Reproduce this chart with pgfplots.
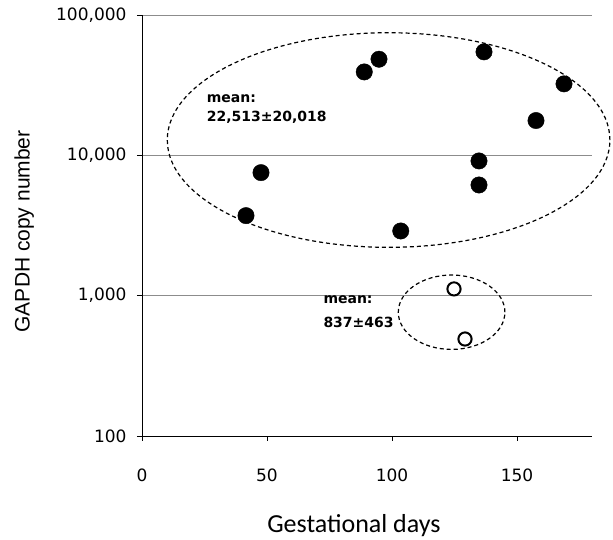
\documentclass[border=0pt]{standalone}
\usepackage{pgfplots}
\pgfplotsset{compat=1.18}
\usepackage{fontspec}
\setmainfont{Carlito}
\newfontfamily\tickfont{DejaVu Sans}
\newfontfamily\annfont{DejaVu Sans}
\newfontfamily\labfont{Liberation Sans}
\pgfplotstableread{
x y
41.6 3720
47.6 7530
88.9 39300
94.8 48400
103.5 2890
134.8 9120
134.8 6150
136.8 54600
157.6 17700
168.8 32300
}\filled
\pgfplotstableread{
x y
124.8 1117
129.2 491
}\open
\begin{document}
\begin{tikzpicture}
\useasboundingbox (-142pt,-103pt) rectangle (471pt,436pt);
\begin{axis}[
 scale only axis, width=450pt, height=421pt,
 xmin=0, xmax=180, ymode=log, ymin=100, ymax=100000,
 axis x line*=bottom, axis y line*=left,
 axis line style={black, line width=0.9pt, -},
 xtick={0,50,100,150}, xticklabels={0,50,100,150},
 ytick={100,1000,10000,100000}, yticklabels={100,{1,000},{10,000},{100,000}},
 yminorticks=false,
 tick align=outside, major tick length=5pt, tick style={black, line width=0.8pt},
 ymajorgrids, grid style={black!45, line width=0.7pt},
 /pgf/number format/assume math mode=true,
 ticklabel style={font=\tickfont\fontsize{17}{20}\selectfont},
 xticklabel style={yshift=-24pt},
 yticklabel style={xshift=-7pt},
 clip=false,
 xlabel={Gestational days},
 xlabel style={font=\fontsize{26}{30}\selectfont, at={(rel axis cs:0.471,0)}, anchor=base, yshift=-96.7pt},
 ylabel={GAPDH copy number},
 ylabel style={font=\labfont\fontsize{21}{24}\selectfont, at={(axis description cs:-0.262,0.486)}, anchor=center},
]
\addplot[only marks, mark=*, mark size=8.2pt, mark options={fill=black, draw=black}] table[x=x,y=y]{\filled};
\addplot[only marks, mark=o, mark size=6.6pt, mark options={draw=black, line width=2pt}] table[x=x,y=y]{\open};
\draw[dash pattern=on 4pt off 3pt, line width=1.2pt] (rel axis cs:0.548,0.703) ellipse [x radius=221.3pt, y radius=107.3pt];
\draw[dash pattern=on 4pt off 3pt, line width=1.2pt] (rel axis cs:0.688,0.294) ellipse [x radius=53.3pt, y radius=37.2pt];
\node[anchor=base west, inner sep=0pt, font=\annfont\bfseries\fontsize{14}{16}\selectfont] at (rel axis cs:0.1437,0.7917) {mean:};
\node[anchor=base west, inner sep=0pt, font=\annfont\bfseries\fontsize{14}{16}\selectfont] at (rel axis cs:0.1437,0.7466) {22,513±20,018};
\node[anchor=base west, inner sep=0pt, font=\annfont\bfseries\fontsize{14}{16}\selectfont] at (rel axis cs:0.4029,0.3152) {mean:};
\node[anchor=base west, inner sep=0pt, font=\annfont\bfseries\fontsize{14}{16}\selectfont] at (rel axis cs:0.4029,0.2572) {837±463};
\end{axis}
\end{tikzpicture}
\end{document}
